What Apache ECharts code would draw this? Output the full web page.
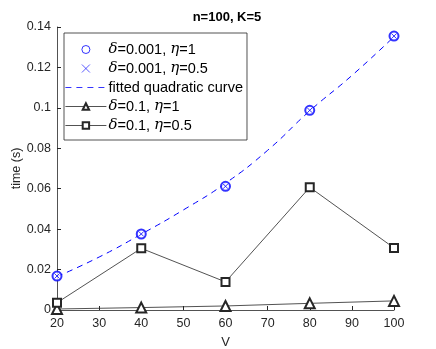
<!DOCTYPE html>
<html>
<head>
<meta charset="utf-8">
<script src="https://cdn.jsdelivr.net/npm/echarts@6/dist/echarts.min.js"></script>
<style>
html, body { margin: 0; padding: 0; background: #fff; }
#chart { width: 436px; height: 349px; }
</style>
</head>
<body>
<div id="chart"></div>
<script>
// 横轴 V
var vValues = [20, 40, 60, 80, 100];
var fitV = [20, 30, 40, 50, 60, 70, 80, 90, 100];

// time (s)
var smallDeltaEta1 = [0.0168, 0.0376, 0.0612, 0.0988, 0.1355];
var smallDeltaEta05 = [0.0168, 0.0376, 0.0612, 0.0988, 0.1355];
var fitCurve = [0.0165, 0.0262, 0.0375, 0.0495, 0.0627, 0.0790, 0.0985, 0.1160, 0.1352];
var bigDeltaEta1 = [0.0005, 0.0012, 0.0020, 0.0033, 0.0045];
var bigDeltaEta05 = [0.0036, 0.0305, 0.0139, 0.0607, 0.0307];

var legendText = {
    d1: '{i|δ}=0.001, {i|η}=1',
    d2: '{i|δ}=0.001, {i|η}=0.5',
    fit: 'fitted quadratic curve',
    d3: '{i|δ}=0.1, {i|η}=1',
    d4: '{i|δ}=0.1, {i|η}=0.5'
};

function pairs(xs, ys) {
    return xs.map(function (x, i) { return [x, ys[i]]; });
}

var blue = '#0000ff';
var dark = '#262626';
var font = 'Liberation Sans, Arial, sans-serif';

var chart = echarts.init(document.getElementById('chart'));

var option = {
    animation: false,
    backgroundColor: '#fff',
    title: {
        text: 'n=100, K=5',
        left: 222,
        top: 6,
        textAlign: 'center',
        textStyle: { fontSize: 13, fontWeight: 'bold', color: '#000', fontFamily: font }
    },
    grid: { left: 57, right: 42, top: 27, bottom: 39, outerBoundsMode: 'none', containLabel: false },
    legend: {
        orient: 'vertical',
        left: 64,
        top: 33,
        padding: [8, 4, 6, 1],
        itemGap: 2,
        itemWidth: 41,
        itemHeight: 8,
        borderColor: '#262626',
        borderWidth: 0.8,
        backgroundColor: '#fff',
        lineStyle: { width: 0.8 },
        itemStyle: { borderWidth: 0.8 },
        data: [
            { name: 'd1', icon: 'circle', itemStyle: { color: '#fff', borderColor: blue, borderWidth: 1 } },
            'd2',
            { name: 'fit', itemStyle: { opacity: 0 } },
            'd3',
            'd4'
        ],
        formatter: function (name) { return legendText[name]; },
        textStyle: {
            fontSize: 14.5,
            lineHeight: 17,
            color: '#000',
            fontFamily: font,
            padding: [0, 0, 0, -3],
            rich: {
                i: { fontStyle: 'italic', fontSize: 15, lineHeight: 17, fontFamily: 'DejaVu Serif, serif', color: '#000' }
            }
        }
    },
    xAxis: {
        type: 'value',
        min: 20,
        max: 100,
        interval: 10,
        name: 'V',
        nameLocation: 'middle',
        nameGap: 26,
        nameTextStyle: { fontSize: 13, color: dark, fontFamily: font },
        axisLine: { lineStyle: { color: dark, width: 0.8 } },
        axisTick: { inside: true, length: 4, lineStyle: { color: dark } },
        axisLabel: { fontSize: 12.5, color: dark, fontFamily: font, margin: 7 },
        splitLine: { show: false }
    },
    yAxis: {
        type: 'value',
        min: 0,
        max: 0.14,
        interval: 0.02,
        name: 'time (s)',
        nameLocation: 'middle',
        nameGap: 34,
        nameMoveOverlap: false,
        nameTextStyle: { fontSize: 12.5, color: dark, fontFamily: font },
        axisLine: { show: true, lineStyle: { color: dark, width: 0.8 } },
        axisTick: { show: true, inside: true, length: 4, lineStyle: { color: dark } },
        axisLabel: { fontSize: 12.5, color: dark, fontFamily: font, margin: 6 },
        splitLine: { show: false }
    },
    series: [
        {
            name: 'fit',
            type: 'line',
            smooth: true,
            symbol: 'none',
            z: 1,
            lineStyle: { color: blue, width: 1, type: [6, 5] },
            itemStyle: { color: blue },
            data: pairs(fitV, fitCurve)
        },
        {
            name: 'd1',
            type: 'scatter',
            symbol: 'emptyCircle',
            symbolSize: 9,
            itemStyle: { color: blue, borderColor: blue, borderWidth: 1 },
            data: pairs(vValues, smallDeltaEta1)
        },
        {
            name: 'd2',
            type: 'scatter',
            symbol: 'path://M0,0L10,10M10,0L0,10',
            symbolSize: 5,
            itemStyle: { color: 'none', borderColor: blue, borderWidth: 1 },
            data: pairs(vValues, smallDeltaEta05)
        },
        {
            name: 'd3',
            type: 'line',
            symbol: 'emptyTriangle',
            symbolSize: 10,
            showAllSymbol: true,
            lineStyle: { color: dark, width: 0.8 },
            itemStyle: { color: dark, borderColor: dark, borderWidth: 0.7 },
            data: pairs(vValues, bigDeltaEta1)
        },
        {
            name: 'd4',
            type: 'line',
            symbol: 'emptyRect',
            symbolSize: 8,
            showAllSymbol: true,
            lineStyle: { color: dark, width: 0.8 },
            itemStyle: { color: dark, borderColor: dark, borderWidth: 0.7 },
            data: pairs(vValues, bigDeltaEta05)
        }
    ]
};

chart.setOption(option);
</script>
</body>
</html>
